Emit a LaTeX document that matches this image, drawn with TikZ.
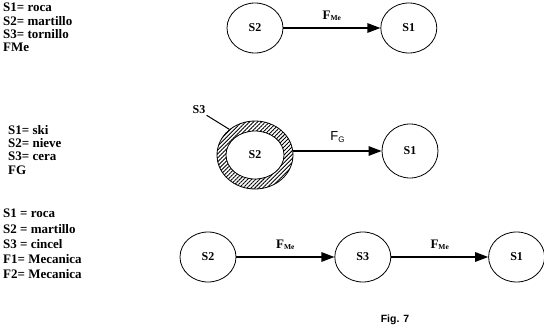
\documentclass[tikz,border=0pt]{standalone}
\usepackage{fontspec}
\setmainfont{Liberation Serif}
\setsansfont{Liberation Sans}
\usepackage{tikz}
\usetikzlibrary{arrows.meta,positioning,shapes.geometric,patterns.meta}

\begin{document}
\begin{tikzpicture}[
  x=1pt, y=-1pt,
  legend/.style={anchor=north west, align=left, inner sep=0pt, font=\bfseries\fontsize{13}{13.3}\selectfont},
  ent/.style={draw, ellipse, line width=0.8pt, minimum width=56pt, minimum height=50pt, inner sep=0pt, font=\bfseries\fontsize{12}{14}\selectfont},
  arr/.style={-{Triangle[length=13pt,width=9.5pt]}, line width=1.4pt},
  flab/.style={above=3pt, font=\bfseries\fontsize{13}{14}\selectfont}
]
\useasboundingbox (0,0) rectangle (544,332);

% legends
\node[legend] (leg1) at (3,3) {S1= roca\\S2= martillo\\S3= tornillo\\FMe};
\node[legend] (leg2) at (8,125) {S1= ski\\S2= nieve\\S3= cera\\FG};
\node[legend, font=\bfseries\fontsize{13}{15.2}\selectfont] (leg3) at (3,209) {S1 = roca\\S2 = martillo\\S3 = cincel\\F1= Mecanica\\F2= Mecanica};

% first case
\node[ent] (s2a) at (255,28) {S2};
\node[ent, right=97pt of s2a] (s1a) {S1};
\draw[arr] (s2a) -- node[flab] {F\raisebox{-0.3ex}{\fontsize{7.5}{8}\selectfont Me}} (s1a);

% second case
\node[ellipse, draw, line width=0.8pt, pattern={Lines[angle=45,distance=2.8pt,line width=0.9pt]}, minimum width=76pt, minimum height=68pt] (ring) at (255,155) {};
\node[ent, fill=white, minimum width=58pt, minimum height=48pt] (s2b) at (ring.center) {S2};
\node[ent, minimum height=54pt] (s1b) at (410,151) {S1};
\node[font=\bfseries\fontsize{12}{14}\selectfont, inner sep=1pt] (s3b) at (199,110) {S3};
\draw[line width=1pt] (s3b.south east) -- (ring.135);
\draw[arr] (ring.east |- s1b) -- node[above=4pt, font=\sffamily\fontsize{13}{14}\selectfont] {F\raisebox{-0.3ex}{\fontsize{8}{9}\selectfont G}} (s1b);

% third case
\node[ent] (s2c) at (208,257) {S2};
\node[ent, right=98pt of s2c] (s3c) {S3};
\node[ent, right=97pt of s3c] (s1c) {S1};
\draw[arr] (s2c) -- node[flab] {F\raisebox{-0.3ex}{\fontsize{7.5}{8}\selectfont Me}} (s3c);
\draw[arr] (s3c) -- node[flab] {F\raisebox{-0.3ex}{\fontsize{7.5}{8}\selectfont Me}} (s1c);

\node[font=\sffamily\bfseries\fontsize{10.5}{12}\selectfont] (fig) at (395,320) {Fig. 7};
\end{tikzpicture}
\end{document}
